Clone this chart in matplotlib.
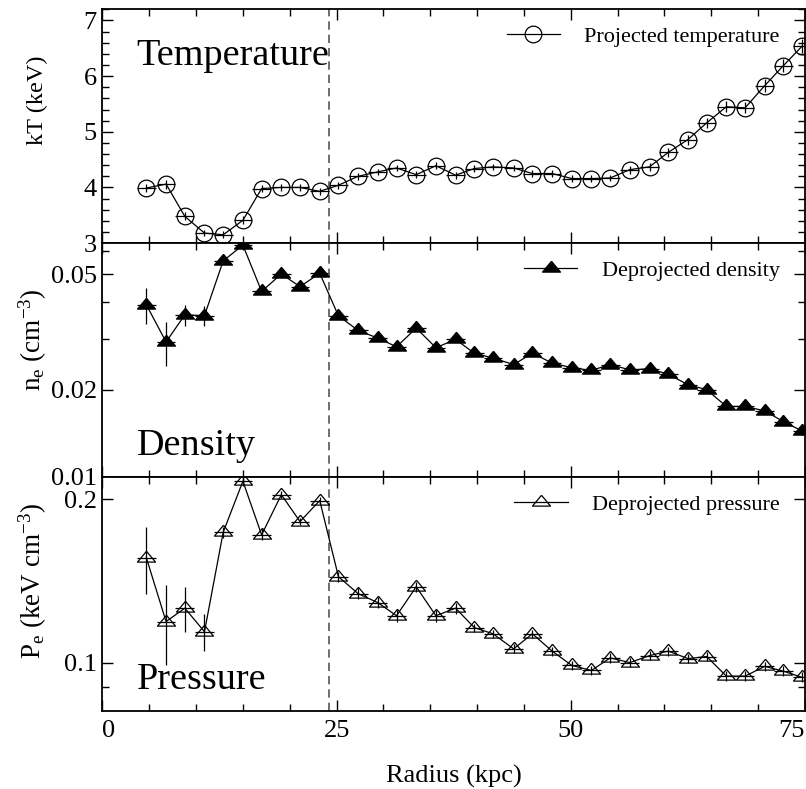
import matplotlib
matplotlib.use("Agg")
import matplotlib.pyplot as plt
from matplotlib.lines import Line2D
from matplotlib.ticker import FixedLocator, FixedFormatter, MultipleLocator, NullFormatter

plt.rcParams['font.family'] = ['Liberation Serif', 'DejaVu Serif']
plt.rcParams['mathtext.fontset'] = 'custom'
plt.rcParams['mathtext.rm'] = 'Liberation Serif'
plt.rcParams['mathtext.it'] = 'Liberation Serif:italic'

# radius of each annulus (kpc)
radius = [4.7, 6.8, 8.8, 10.9, 12.9, 15.0, 17.0, 19.1, 21.1, 23.2,
          25.2, 27.3, 29.4, 31.4, 33.5, 35.6, 37.7, 39.7, 41.7, 43.9,
          45.9, 48.0, 50.1, 52.2, 54.2, 56.3, 58.4, 60.4, 62.5, 64.5,
          66.6, 68.6, 70.7, 72.7, 74.7]
radius_err = [1.0] * len(radius)

# projected temperature (keV)
temp = [3.99, 4.06, 3.48, 3.18, 3.15, 3.41, 3.98, 4.00, 4.00, 3.93,
        4.04, 4.20, 4.28, 4.35, 4.23, 4.39, 4.22, 4.34, 4.37, 4.35,
        4.25, 4.25, 4.16, 4.16, 4.17, 4.32, 4.37, 4.63, 4.86, 5.16,
        5.45, 5.43, 5.83, 6.19, 6.54]
temp_err = [0.08, 0.08, 0.07, 0.06, 0.06, 0.07, 0.06, 0.06, 0.06, 0.06,
            0.06, 0.06, 0.06, 0.06, 0.06, 0.06, 0.06, 0.06, 0.06, 0.06,
            0.06, 0.06, 0.06, 0.06, 0.06, 0.07, 0.07, 0.08, 0.09, 0.09,
            0.10, 0.10, 0.11, 0.12, 0.13]

# deprojected density (cm^-3)
dens = [0.0392, 0.0292, 0.0362, 0.0360, 0.0556, 0.0630, 0.0436, 0.0501, 0.0453, 0.0504,
        0.0359, 0.0320, 0.0301, 0.0281, 0.0326, 0.0279, 0.0298, 0.0267, 0.0257, 0.0244,
        0.0267, 0.0247, 0.0238, 0.0233, 0.0244, 0.0234, 0.0236, 0.0226, 0.0208, 0.0200,
        0.0175, 0.0175, 0.0169, 0.0155, 0.0144]
dens_err = [0.0055, 0.0050, 0.0030, 0.0028, 0.0012, 0.0012, 0.0010, 0.0010, 0.0009, 0.0009,
            0.0008, 0.0007, 0.0007, 0.0006, 0.0006, 0.0006, 0.0006, 0.0005, 0.0005, 0.0005,
            0.0005, 0.0005, 0.0005, 0.0005, 0.0005, 0.0005, 0.0005, 0.0005, 0.0005, 0.0005,
            0.0004, 0.0004, 0.0004, 0.0004, 0.0004]

# deprojected pressure (keV cm^-3)
pres = [0.156, 0.119, 0.126, 0.114, 0.174, 0.216, 0.172, 0.204, 0.182, 0.199,
        0.144, 0.134, 0.129, 0.122, 0.138, 0.122, 0.126, 0.116, 0.113, 0.106,
        0.113, 0.105, 0.0988, 0.0967, 0.102, 0.100, 0.103, 0.105, 0.1017, 0.1026,
        0.0944, 0.0944, 0.0984, 0.0964, 0.0939]
pres_err = [0.022, 0.020, 0.012, 0.009, 0.004, 0.004, 0.004, 0.003, 0.003, 0.003,
            0.003, 0.003, 0.003, 0.003, 0.003, 0.003, 0.003, 0.002, 0.002, 0.002,
            0.002, 0.002, 0.002, 0.002, 0.002, 0.002, 0.002, 0.002, 0.002, 0.002,
            0.002, 0.002, 0.002, 0.002, 0.002]

cut_radius = 24.2

# flattish triangle, centred on its centroid
tri = [(0, 0.8), (-1, -0.4), (1, -0.4), (0, 0.8)]

fig, axes = plt.subplots(3, 1, sharex=True, figsize=(8.06, 7.89), dpi=100)
fig.subplots_adjust(left=0.127, right=0.9988, top=0.9882, bottom=0.0992, hspace=0)
ax1, ax2, ax3 = axes

ebkw = dict(color='black', lw=0.9, elinewidth=0.9, capsize=0, mec='black', mew=0.9)

series = [
    (ax1, temp, temp_err, 'o', 12, 'none', 'Projected temperature'),
    (ax2, dens, dens_err, tri, 13, 'black', 'Deprojected density'),
    (ax3, pres, pres_err, tri, 13, 'none', 'Deprojected pressure'),
]

for ax, y, yerr, mk, ms, fc, lab in series:
    ax.errorbar(radius, y, yerr=yerr, xerr=radius_err, marker=mk, ms=ms, mfc=fc, **ebkw)
    handle = Line2D([], [], color='black', lw=0.9, marker=mk, ms=ms, mfc=fc,
                    mec='black', mew=0.9)
    ax.legend([handle], [lab], loc='upper right', bbox_to_anchor=(0.983, 0.983),
              frameon=False, fontsize=16, handlelength=2.4, handletextpad=1.1,
              borderaxespad=0.2)

for ax in axes:
    ax.axvline(cut_radius, color='#555555', lw=1.2, ls=(0, (5, 3)))
    ax.tick_params(which='both', direction='in', top=True, right=True, width=1,
                   labelsize=19, pad=4)
    ax.tick_params(which='major', length=8)
    ax.tick_params(which='minor', length=5)
    for s in ax.spines.values():
        s.set_linewidth(1.3)
    ax.xaxis.set_major_locator(FixedLocator([0, 25, 50, 75]))
    ax.xaxis.set_minor_locator(MultipleLocator(5))

ax1.set_xlim(0, 75)

# temperature panel
ax1.set_ylim(3.0, 7.2)
ax1.yaxis.set_major_locator(MultipleLocator(1))
ax1.yaxis.set_minor_locator(MultipleLocator(0.2))
ax1.set_ylabel('kT (keV)', fontsize=17.5)
ax1.yaxis.set_label_coords(-0.078, 0.61)
ax1.text(0.049, 0.76, 'Temperature', transform=ax1.transAxes, fontsize=27.5)

# density panel
ax2.set_yscale('log')
ax2.set_ylim(0.01, 0.064)
ax2.yaxis.set_major_locator(FixedLocator([0.01, 0.02, 0.05]))
ax2.yaxis.set_major_formatter(FixedFormatter(['0.01', '0.02', '0.05']))
ax2.yaxis.set_minor_locator(FixedLocator([0.03, 0.04, 0.06]))
ax2.yaxis.set_minor_formatter(NullFormatter())
ax2.set_ylabel(r'n$_{\rm e}$ (cm$^{-3}$)', fontsize=19.5)
ax2.yaxis.set_label_coords(-0.076, 0.589)
ax2.text(0.049, 0.095, 'Density', transform=ax2.transAxes, fontsize=27.5)

# pressure panel
ax3.set_yscale('log')
ax3.set_ylim(0.0815, 0.22)
ax3.yaxis.set_major_locator(FixedLocator([0.1, 0.2]))
ax3.yaxis.set_major_formatter(FixedFormatter(['0.1', '0.2']))
ax3.yaxis.set_minor_locator(FixedLocator([0.09]))
ax3.yaxis.set_minor_formatter(NullFormatter())
ax3.set_ylabel(r'P$_{\rm e}$ (keV cm$^{-3}$)', fontsize=19.5)
ax3.yaxis.set_label_coords(-0.076, 0.556)
ax3.text(0.049, 0.092, 'Pressure', transform=ax3.transAxes, fontsize=27.5)

ax3.set_xlabel('Radius (kpc)', fontsize=19, labelpad=16)
ax3.tick_params(axis='x', pad=7)
xt = ax3.xaxis.get_major_ticks()
xt[0].label1.set_horizontalalignment('left')
xt[-1].label1.set_horizontalalignment('right')

fig.savefig('out.png', dpi=100)
